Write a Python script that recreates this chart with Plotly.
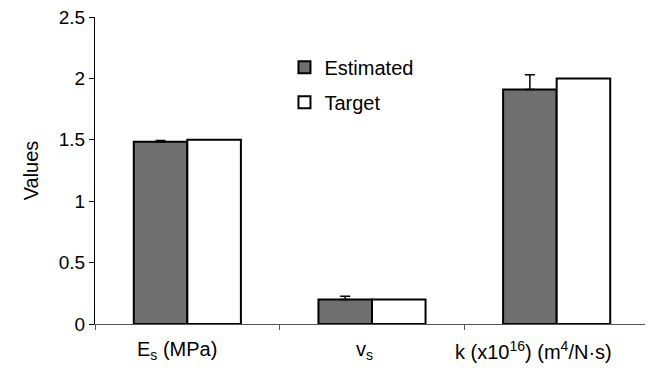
import plotly.graph_objects as go

categories = ["Es", "vs", "k"]
tick_labels = ["E<sub>s</sub> (MPa)", "v<sub>s</sub>", "k (x10<sup>16</sup>) (m<sup>4</sup>/N·s)"]
estimated = [1.485, 0.20, 1.91]
estimated_err = [0.01, 0.025, 0.12]
target = [1.5, 0.2, 2.0]
y_ticks = [0, 0.5, 1, 1.5, 2, 2.5]
y_tick_text = ["0", "0.5", "1", "1.5", "2", "2.5"]

FONT = "Liberation Sans, Arial, sans-serif"

fig = go.Figure()
fig.add_trace(go.Bar(
    x=categories, y=estimated, name="Estimated",
    marker=dict(color="#6f6f6f", line=dict(color="black", width=2)),
    error_y=dict(type="data", array=estimated_err, arrayminus=[0, 0, 0],
                 symmetric=False, color="black", thickness=1.5, width=5),
    legendgroup="a",
))
fig.add_trace(go.Bar(
    x=categories, y=target, name="Target",
    marker=dict(color="white", line=dict(color="black", width=2)),
    legendgroup="b",
))

shifts = [-10, -8, -23]
for c, t, s in zip(categories, tick_labels, shifts):
    fig.add_annotation(x=c, y=0, xref="x", yref="y", yanchor="top", text=t,
                       showarrow=False, yshift=-12, xshift=s,
                       font=dict(family=FONT, size=20, color="black"))

fig.update_layout(
    width=645, height=362,
    margin=dict(l=87, r=4, t=9, b=46, autoexpand=False),
    paper_bgcolor="white", plot_bgcolor="white",
    barmode="group", bargap=0.42, bargroupgap=0,
    font=dict(family=FONT, size=19, color="black"),
    showlegend=True,
    legend=dict(x=0.342, y=0.90, xanchor="left", yanchor="top",
                bgcolor="rgba(0,0,0,0)", font=dict(family=FONT, size=20),
                traceorder="grouped", tracegroupgap=6),
)
fig.update_xaxes(
    showline=True, linecolor="#555555", linewidth=1,
    ticks="outside", tickson="boundaries", ticklen=5, tickcolor="#555555",
    showticklabels=False, showgrid=False, zeroline=False, automargin=False,
)
fig.update_yaxes(
    range=[0, 2.5], tickvals=y_ticks, ticktext=y_tick_text,
    showline=True, linecolor="black", linewidth=1,
    ticks="outside", ticklen=5, tickcolor="black",
    showgrid=False, zeroline=False, ticklabeloverflow="allow", automargin=False,
    title=dict(text="Values", font=dict(family=FONT, size=20), standoff=14),
    tickfont=dict(family=FONT, size=19),
)

fig.write_html("out.html")
